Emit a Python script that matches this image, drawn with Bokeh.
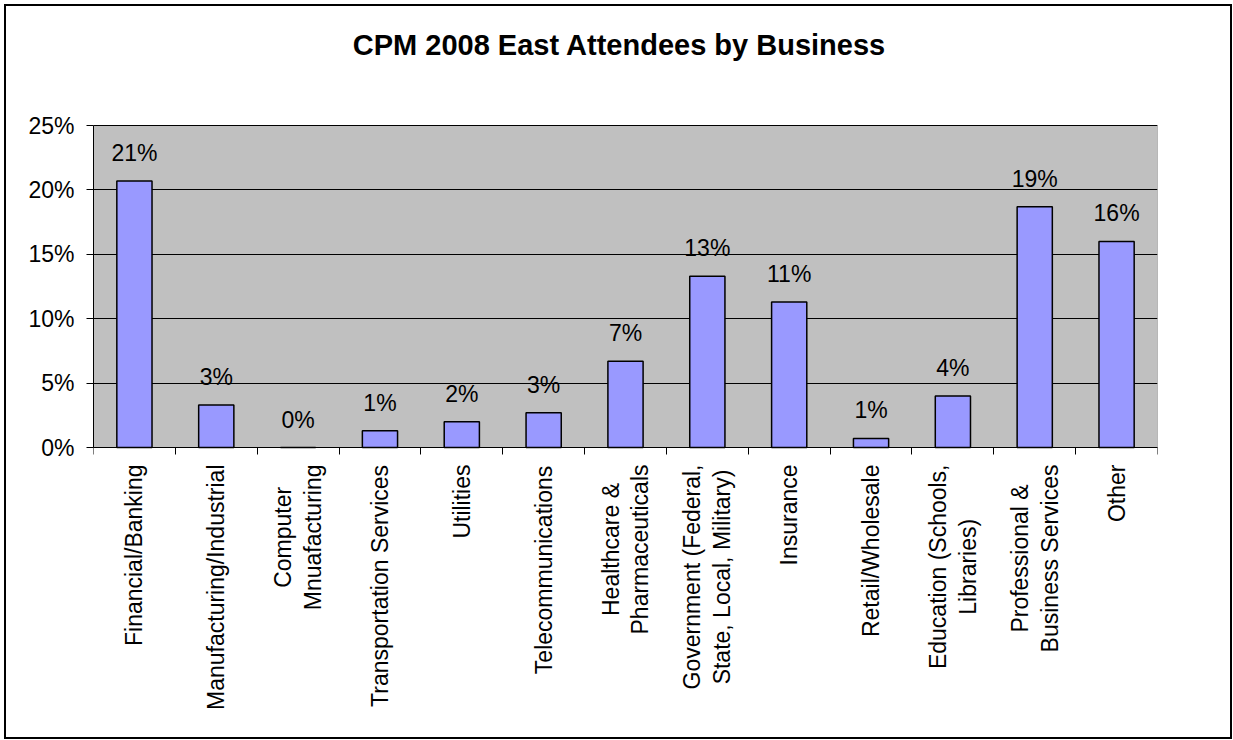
import math
from bokeh.plotting import figure
from bokeh.models import ColumnDataSource, FixedTicker, NumeralTickFormatter
from bokeh.core.properties import value
from bokeh.embed import file_html
from bokeh.resources import INLINE

categories = [
    "Financial/Banking",
    "Manufacturing/Industrial",
    "Computer\nMnuafacturing",
    "Transportation Services",
    "Utilities",
    "Telecommunications",
    "Healthcare &\nPharmaceuticals",
    "Government (Federal,\nState, Local, Military)",
    "Insurance",
    "Retail/Wholesale",
    "Education (Schools,\nLibraries)",
    "Professional &\nBusiness Services",
    "Other",
]
shares = [0.207, 0.033, 0.0, 0.013, 0.020, 0.027, 0.067, 0.133, 0.113, 0.007, 0.040, 0.187, 0.160]
y_ticks = [0, 0.05, 0.10, 0.15, 0.20, 0.25]
title_text = "CPM 2008 East Attendees by Business"

FONT = "Liberation Sans"
LABEL_PX = 23

# ---- layout (pixels) ----
TOP_PX, PLOT_PX, BOTTOM_PX = 115, 322, 287
Y_MAX_VAL = 0.25
px = Y_MAX_VAL / PLOT_PX
y_lo = -BOTTOM_PX * px
y_hi = Y_MAX_VAL + TOP_PX * px

# Arial / Liberation Sans advance widths (1/1000 em) to centre rotated multi-line labels
W = {' ': 278, '&': 667, '(': 333, ')': 333, ',': 278, '/': 278, 'A': 667, 'B': 667,
     'C': 722, 'E': 667, 'F': 611, 'G': 778, 'H': 722, 'I': 278, 'L': 556, 'M': 833,
     'O': 778, 'P': 667, 'R': 722, 'S': 667, 'T': 611, 'U': 722, 'W': 944, 'a': 556,
     'b': 556, 'c': 500, 'd': 556, 'e': 556, 'f': 278, 'g': 556, 'h': 556, 'i': 222,
     'k': 500, 'l': 222, 'm': 833, 'n': 556, 'o': 556, 'p': 556, 'r': 333, 's': 500,
     't': 278, 'u': 556, 'v': 500, 'w': 722, 'y': 500}


def text_width(s, size):
    return max(sum(W.get(ch, 556) for ch in line) for line in s.split("\n")) / 1000 * size


n = len(categories)
xs = [i + 0.5 for i in range(n)]
labels = [f"{round(v * 100)}%" for v in shares]
src = ColumnDataSource(dict(x=xs, top=shares, label=labels))
cat_src = ColumnDataSource(dict(
    x=xs, y=[0] * n, text=categories,
    yoff=[17 + text_width(c, LABEL_PX) / 2 for c in categories],
))

p = figure(
    width=1228, height=735,
    x_range=(0, n), y_range=(y_lo, y_hi),
    output_backend="svg", toolbar_location=None,
    min_border_left=87, min_border_right=77, min_border_top=4, min_border_bottom=7,
)
p.styles = {"border": "2px solid black", "box-sizing": "border-box", "margin": "4px 0 0 4px"}
p.background_fill_color = "white"
p.border_fill_color = "white"
p.outline_line_color = None

# plot area background
p.quad(left=0, right=n, bottom=0, top=Y_MAX_VAL, fill_color="#C0C0C0",
       line_color="#808080", line_width=1, level="image")

p.vbar(x="x", top="top", width=0.43, bottom=0, source=src,
       fill_color="#9999FF", line_color="black", line_width=1.5)

p.text(x="x", y="top", text="label", source=src, text_align="center",
       text_baseline="alphabetic", y_offset=-28, text_font=value(FONT),
       text_font_size="23px", text_color="black")

# category labels, rotated, lines centred
p.text(x="x", y="y", text="text", source=cat_src, angle=math.pi / 2,
       text_align="center", text_baseline="middle", y_offset="yoff",
       text_font=value(FONT), text_font_size=f"{LABEL_PX}px", text_color="black",
       text_line_height=1.15)

# title
p.text(x=[n / 2], y=[y_hi], text=[title_text], text_align="center",
       text_baseline="alphabetic", x_offset=-6, y_offset=34,
       text_font=value(FONT), text_font_size="29px", text_font_style="bold",
       text_color="black")

# grid
p.xgrid.visible = False
p.ygrid.ticker = FixedTicker(ticks=y_ticks)
p.ygrid.grid_line_color = "black"
p.ygrid.grid_line_width = 1

# y axis
p.yaxis.ticker = FixedTicker(ticks=y_ticks)
p.yaxis.bounds = (0, Y_MAX_VAL)
p.yaxis.formatter = NumeralTickFormatter(format="0%")
p.yaxis.major_label_text_font = FONT
p.yaxis.major_label_text_font_size = "23px"
p.yaxis.major_label_text_color = "black"
p.yaxis.axis_line_color = "black"
p.yaxis.major_tick_line_color = "black"
p.yaxis.major_tick_out = 7
p.yaxis.major_tick_in = 0
p.yaxis.minor_tick_line_color = None
p.yaxis.major_label_standoff = 12

# x axis at y=0: ticks at category boundaries
p.xaxis.fixed_location = 0
p.xaxis.ticker = FixedTicker(ticks=list(range(n + 1)))
p.xaxis.major_label_text_font_size = "0px"
p.xaxis.major_label_text_color = None
p.xaxis.axis_line_color = "black"
p.xaxis.major_tick_line_color = "black"
p.xaxis.major_tick_out = 7
p.xaxis.major_tick_in = 0
p.xaxis.minor_tick_line_color = None

open("out.html", "w").write(file_html(p, INLINE))
